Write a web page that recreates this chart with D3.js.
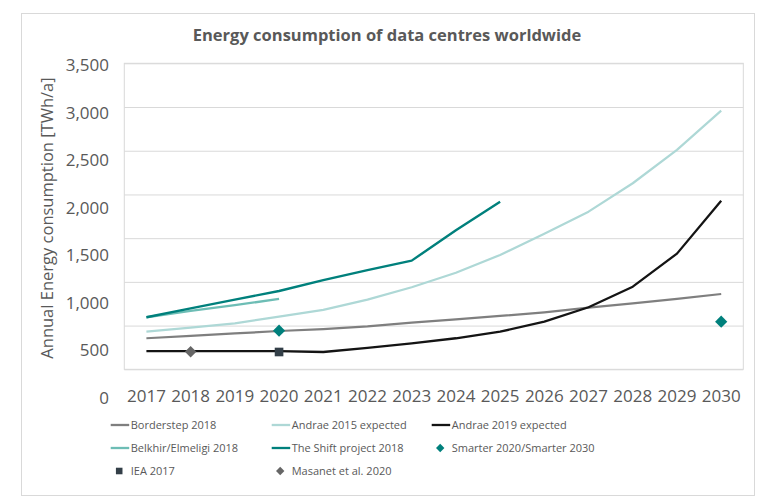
<!DOCTYPE html>
<html>
<head>
<meta charset="utf-8">
<script src="https://cdn.jsdelivr.net/npm/d3@7"></script>
<style>
  body { margin: 0; background: #ffffff; }
  text { font-family: "Open Sans", "Noto Sans", sans-serif; }
</style>
</head>
<body>
<div id="chart"></div>
<script>
// data
const years = ["2017", "2018", "2019", "2020", "2021", "2022", "2023", "2024", "2025", "2026", "2027", "2028", "2029", "2030"];
const borderstep = [355, 383, 410, 438, 460, 490, 533, 572, 610, 652, 705, 755, 805, 861];
const andrae2015 = [430, 476, 526, 602, 680, 797, 938, 1105, 1308, 1550, 1803, 2128, 2509, 2958];
const andrae2019 = [209, 209, 209, 209, 198, 245, 297, 355, 430, 545, 710, 945, 1323, 1927];
const belkhirYears = ["2017", "2018", "2019", "2020"];
const belkhir = [595, 668, 734, 805];
const shiftYears = ["2017", "2018", "2019", "2020", "2021", "2022", "2023", "2024", "2025"];
const shift = [595, 697, 797, 896, 1020, 1135, 1243, 1590, 1917];
const smarterYears = ["2020", "2030"];
const smarter = [442, 545];
const ieaYears = ["2020"];
const iea = [198];
const masanetYears = ["2018"];
const masanet = [201];
const yTicks = [0, 500, 1000, 1500, 2000, 2500, 3000, 3500];
const legendNames = ["Borderstep 2018", "Andrae 2015 expected", "Andrae 2019 expected",
  "Belkhir/Elmeligi 2018", "The Shift project 2018", "Smarter 2020/Smarter 2030",
  "IEA 2017", "Masanet et al. 2020"];

const W = 775, H = 499;
const plot = { left: 124.3, right: 743.3, top: 63.3, bottom: 369.3 };

const svg = d3.select("#chart")
  .append("svg")
  .attr("width", W)
  .attr("height", H);

// outer chart frame
svg.append("rect")
  .attr("x", 21.5).attr("y", 13.5)
  .attr("width", 733).attr("height", 482)
  .attr("fill", "#ffffff")
  .attr("stroke", "#d9d9d9");

const xScale = d3.scaleBand().domain(years).range([plot.left, plot.right]);
const xPos = (yr) => xScale(yr) + xScale.bandwidth() / 2;
const yScale = d3.scaleLinear().domain([0, 3500]).range([plot.bottom, plot.top]);
// the tick labels in the reference sit on their own spacing, not on the gridlines
const yLabelScale = d3.scaleLinear().domain([0, 3500]).range([398, 65]);

// gridlines
svg.append("g")
  .attr("class", "grid")
  .attr("transform", "translate(" + plot.left + ",0)")
  .call(d3.axisLeft(yScale).tickValues(yTicks).tickSize(-(plot.right - plot.left)).tickFormat(""))
  .call((g) => g.select(".domain").remove())
  .call((g) => g.selectAll("line").attr("stroke", "#d9d9d9"));

svg.append("rect")
  .attr("x", plot.left).attr("y", plot.top)
  .attr("width", plot.right - plot.left).attr("height", plot.bottom - plot.top)
  .attr("fill", "none")
  .attr("stroke", "#d9d9d9");

// axes
svg.append("g")
  .attr("class", "x-axis")
  .attr("transform", "translate(0,390)")
  .call(d3.axisBottom(xScale).tickSize(0).tickPadding(0))
  .call((g) => g.select(".domain").remove())
  .call((g) => g.selectAll("text")
    .attr("fill", "#595959")
    .style("font-size", "17px")
    .style("font-family", "'Open Sans', sans-serif"));

svg.append("g")
  .attr("class", "y-axis")
  .attr("transform", "translate(109,0)")
  .call(d3.axisLeft(yLabelScale).tickValues(yTicks).tickSize(0).tickPadding(0).tickFormat(d3.format(",")))
  .call((g) => g.select(".domain").remove())
  .call((g) => g.selectAll("text")
    .attr("fill", "#595959")
    .style("font-size", "17px")
    .style("font-family", "'Open Sans', sans-serif"));

// titles
svg.append("text")
  .attr("x", 387).attr("y", 40.5)
  .attr("text-anchor", "middle")
  .attr("fill", "#595959")
  .style("font-size", "16.5px")
  .style("font-weight", "bold")
  .text("Energy consumption of data centres worldwide");

svg.append("text")
  .attr("transform", "translate(52.7,218) rotate(-90)")
  .attr("text-anchor", "middle")
  .attr("fill", "#595959")
  .style("font-size", "16.5px")
  .text("Annual Energy consumption [TWh/a]");

// lines
const line = d3.line()
  .x((d) => xPos(d.year))
  .y((d) => yScale(d.value));

const series = [
  { name: legendNames[0], yrs: years, vals: borderstep, color: "#7f7f7f", width: 2.2 },
  { name: legendNames[1], yrs: years, vals: andrae2015, color: "#aed8d6", width: 2.2 },
  { name: legendNames[2], yrs: years, vals: andrae2019, color: "#141414", width: 2.3 },
  { name: legendNames[3], yrs: belkhirYears, vals: belkhir, color: "#6dbdb5", width: 2.4 },
  { name: legendNames[4], yrs: shiftYears, vals: shift, color: "#00807c", width: 2.4 },
];

svg.append("g")
  .selectAll("path")
  .data(series)
  .enter()
  .append("path")
  .attr("d", (s) => line(s.yrs.map((yr, i) => ({ year: yr, value: s.vals[i] }))))
  .attr("fill", "none")
  .attr("stroke", (s) => s.color)
  .attr("stroke-width", (s) => s.width)
  .attr("stroke-linejoin", "round");

// point markers
const diamond = d3.symbol().type(d3.symbolDiamond2);
const square = d3.symbol().type(d3.symbolSquare2);

const points = [
  { yrs: smarterYears, vals: smarter, color: "#00807c", shape: diamond.size(95) () },
  { yrs: ieaYears, vals: iea, color: "#333f48", shape: square.size(95) () },
  { yrs: masanetYears, vals: masanet, color: "#666666", shape: diamond.size(85) () },
];

points.forEach(function (p) {
  svg.append("g")
    .selectAll("path")
    .data(p.yrs.map((yr, i) => ({ year: yr, value: p.vals[i] })))
    .enter()
    .append("path")
    .attr("transform", (d) => "translate(" + xPos(d.year) + "," + yScale(d.value) + ")")
    .attr("d", p.shape)
    .attr("fill", p.color);
});

// legend
const legendItems = [
  { type: "line", color: series[0].color },
  { type: "line", color: series[1].color },
  { type: "line", color: series[2].color },
  { type: "line", color: series[3].color },
  { type: "line", color: series[4].color },
  { type: "diamond", color: points[0].color },
  { type: "square", color: points[1].color },
  { type: "diamond", color: points[2].color },
];
const legendCols = [110.7, 271.7, 431.7];
const legendRows = [425, 448, 471];

const leg = svg.append("g")
  .selectAll("g")
  .data(legendItems)
  .enter()
  .append("g")
  .attr("transform", (d, i) => "translate(" + legendCols[i % 3] + "," + legendRows[Math.floor(i / 3)] + ")");

leg.filter((d) => d.type === "line")
  .append("line")
  .attr("x1", 0).attr("x2", 18.5)
  .attr("stroke", (d) => d.color)
  .attr("stroke-width", 2.3);

leg.filter((d) => d.type !== "line")
  .append("path")
  .attr("transform", "translate(8.5,0)")
  .attr("d", (d) => d3.symbol().type(d.type === "square" ? d3.symbolSquare2 : d3.symbolDiamond2).size(d.type === "square" ? 55 : 45)())
  .attr("fill", (d) => d.color);

leg.append("text")
  .attr("x", 20)
  .attr("dy", "0.35em")
  .attr("fill", "#595959")
  .style("font-size", "11px")
  .text((d, i) => legendNames[i]);
</script>
</body>
</html>
